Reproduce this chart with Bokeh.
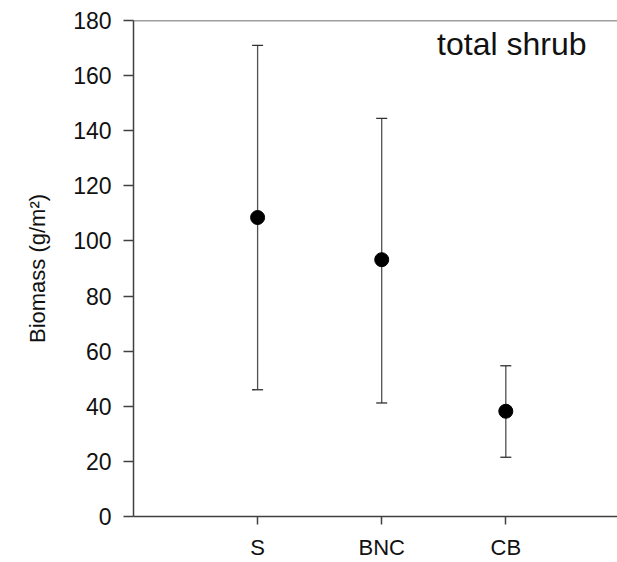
from bokeh.plotting import figure
from bokeh.models import Range1d, FixedTicker, Whisker, TeeHead, ColumnDataSource, Span, Label
from bokeh.embed import file_html
from bokeh.resources import INLINE

categories = ["S", "BNC", "CB"]
positions = [1, 2, 3]
means = [108.5, 93.2, 38.2]
upper = [171.0, 144.5, 54.7]
lower = [46.0, 41.2, 21.5]
y_ticks = [0, 20, 40, 60, 80, 100, 120, 140, 160, 180]

FONT = "Liberation Sans"

p = figure(width=617, height=562, output_backend="svg", toolbar_location=None,
           x_range=Range1d(0, 3.9), y_range=Range1d(0, 180),
           min_border_left=133, min_border_top=20, min_border_right=0, min_border_bottom=44)
p.background_fill_color = "white"
p.border_fill_color = "white"
p.outline_line_color = None
p.xgrid.visible = False
p.ygrid.visible = False

src = ColumnDataSource(dict(x=positions, m=means, up=upper, lo=lower))
w = Whisker(base="x", upper="up", lower="lo", source=src, dimension="height",
            line_color="#505050", line_width=1.3,
            upper_head=TeeHead(size=11, line_color="#303030", line_width=1.3),
            lower_head=TeeHead(size=11, line_color="#303030", line_width=1.3))
p.add_layout(w)
p.scatter("x", "m", source=src, size=14, color="black")

p.add_layout(Span(location=180, dimension="width", line_color="#404040", line_width=1.5))

for ax in (p.xaxis[0], p.yaxis[0]):
    ax.axis_line_color = "#404040"
    ax.axis_line_width = 1.5
    ax.major_tick_line_color = "#404040"
    ax.major_tick_line_width = 1.5
    ax.minor_tick_line_color = None
    ax.major_tick_in = 0
    ax.major_label_text_font = FONT
    ax.major_label_text_font_size = "23px"
    ax.major_label_text_color = "#111111"

p.xaxis.ticker = FixedTicker(ticks=positions)
p.xaxis.major_label_overrides = {pos: c for pos, c in zip(positions, categories)}
p.xaxis.major_label_text_font_size = "22px"
p.xaxis.major_tick_out = 8
p.xaxis.major_label_standoff = 10

p.yaxis.ticker = FixedTicker(ticks=y_ticks)
p.yaxis.major_tick_out = 10
p.yaxis.major_label_standoff = 12
p.yaxis.axis_label = "Biomass (g/m²)"
p.yaxis.axis_label_text_font = FONT
p.yaxis.axis_label_text_font_size = "22px"
p.yaxis.axis_label_text_font_style = "normal"
p.yaxis.axis_label_text_color = "#111111"
p.yaxis.axis_label_standoff = 20

p.add_layout(Label(x=453, y=473, x_units="screen", y_units="screen", text="total shrub",
                   text_font=FONT, text_font_size="32px", text_align="right",
                   text_baseline="middle", text_color="#111111"))

open("out.html", "w").write(file_html(p, INLINE))
